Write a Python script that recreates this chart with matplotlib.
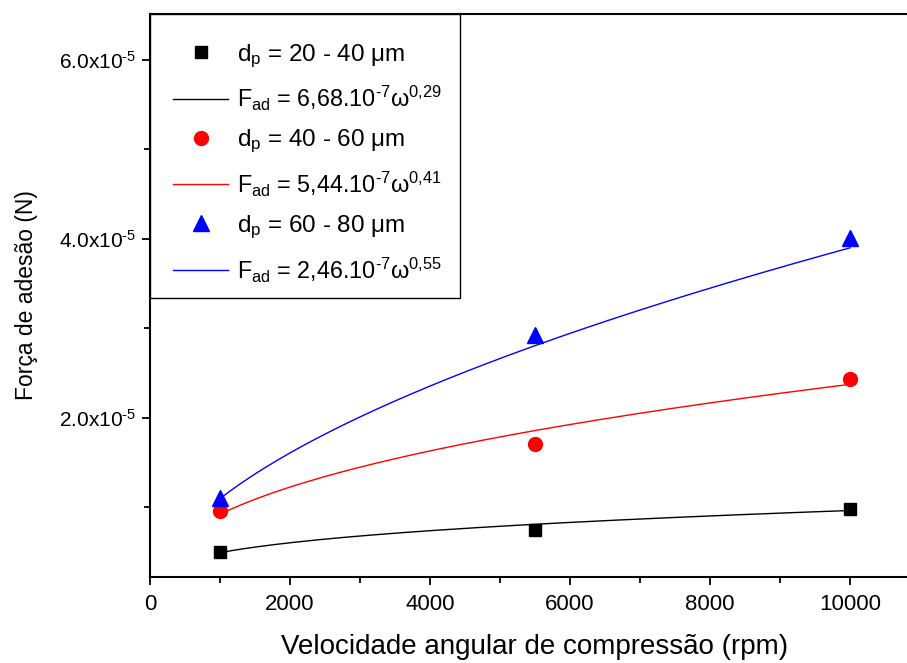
"""Forca de adesao vs velocidade angular de compressao."""

import numpy as np
import matplotlib
matplotlib.use("Agg")
import matplotlib.pyplot as plt
from matplotlib.patches import Rectangle
from matplotlib.ticker import FuncFormatter, MultipleLocator

plt.rcParams['font.family'] = ['Liberation Sans', 'DejaVu Sans']
plt.rcParams['mathtext.fontset'] = 'custom'
plt.rcParams['mathtext.rm'] = 'Liberation Sans'
plt.rcParams['mathtext.it'] = 'Liberation Sans'
plt.rcParams['mathtext.default'] = 'regular'

# data
rpm = [1000, 5500, 10000]
f_20_40 = [5.0e-6, 7.5e-6, 9.8e-6]
f_40_60 = [9.6e-6, 1.71e-5, 2.43e-5]
f_60_80 = [1.10e-5, 2.93e-5, 4.01e-5]

# power law fits F = a * w^b (from the legend)
fit_a = [6.68e-7, 5.44e-7, 2.46e-7]
fit_b = [0.29, 0.41, 0.55]

labels_pts = [r"d$_p$ = 20 - 40 μm", r"d$_p$ = 40 - 60 μm", r"d$_p$ = 60 - 80 μm"]
labels_fit = [r"F$_{ad}$ = 6,68.10$^{‐7}$ω$^{0{,}29}$",
              r"F$_{ad}$ = 5,44.10$^{‐7}$ω$^{0{,}41}$",
              r"F$_{ad}$ = 2,46.10$^{‐7}$ω$^{0{,}55}$"]
colors = ['black', 'red', 'blue']
markers = ['s', 'o', '^']
msizes = [9, 10, 11]

fig = plt.figure(figsize=(9.07, 6.63), dpi=100)
ax = fig.add_axes([0.1654, 0.1297, 0.849, 0.8492])

w = np.linspace(rpm[0], rpm[-1], 200)
series = [f_20_40, f_40_60, f_60_80]
for vals, a, b, c, m, ms, lp, lf in zip(series, fit_a, fit_b, colors, markers,
                                         msizes, labels_pts, labels_fit):
    ax.plot(rpm, vals, linestyle='none', marker=m, color=c, markersize=ms,
            label=lp)
    ax.plot(w, a * w ** b, color=c, linewidth=1, label=lf)

ax.set_xlim(0, 11000)
ax.set_ylim(2.23e-6, 6.51e-5)
ax.xaxis.set_major_locator(MultipleLocator(2000))
ax.xaxis.set_minor_locator(MultipleLocator(1000))
ax.yaxis.set_major_locator(MultipleLocator(2e-5))
ax.yaxis.set_minor_locator(MultipleLocator(1e-5))
ax.yaxis.set_major_formatter(
    FuncFormatter(lambda v, p: f"{v * 1e5:.1f}x10$^{{‐5}}$" if v > 0 else "0"))

ax.tick_params(which='both', direction='out', width=1.3)
ax.tick_params(which='major', length=6)
ax.tick_params(which='minor', length=4)
ax.tick_params(axis='x', labelsize=16, pad=6)
ax.tick_params(axis='y', labelsize=15, pad=4)
for s in ax.spines.values():
    s.set_linewidth(1.5)

ax.set_xlabel("Velocidade angular de compressão (rpm)", fontsize=20, labelpad=14)
ax.set_ylabel("Força de adesão (N)", fontsize=16.5, labelpad=15)

# legend without its own frame; the box is drawn afterwards with
# more room above and below than at the sides, as in the original
leg = ax.legend(loc='upper left', bbox_to_anchor=(0.030, 0.950),
                borderaxespad=0, borderpad=0, frameon=False,
                fontsize=17.5, handlelength=2.26, handletextpad=0.37,
                labelspacing=0.6)
leg.set_zorder(6)
for t in leg.get_texts()[1::2]:
    t.set_fontsize(16.8)

fig.canvas.draw()
bb = leg.get_window_extent()
to_ax = ax.transAxes.inverted()
x_right, y_bottom = to_ax.transform((bb.x1 + 18, bb.y0 - 13))
box = Rectangle((0, y_bottom), x_right, 1 - y_bottom, transform=ax.transAxes,
                facecolor='white', edgecolor='black', linewidth=1.0,
                zorder=5.5, clip_on=False)
ax.add_patch(box)

fig.savefig("out.png", dpi=100)
